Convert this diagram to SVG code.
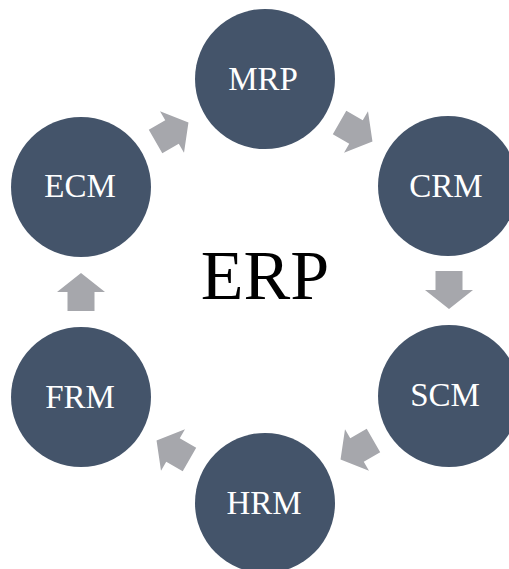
<svg xmlns="http://www.w3.org/2000/svg" width="509" height="569" viewBox="0 0 509 569">
<defs>
<style>
.node circle{fill:#44546A}
.node text{fill:#FFFFFF;font-family:"Liberation Serif","Times New Roman",serif;font-size:33px;text-anchor:middle}
.arrow{fill:#A6A7AC}
.title{fill:#000000;font-family:"Liberation Serif","Times New Roman",serif;font-size:70px;text-anchor:middle}
</style>
<path id="blk" d="M-19,-13.5 L0,-13.5 L0,-24 L19,0 L0,24 L0,13.5 L-19,13.5 Z"/>
</defs>
<rect width="509" height="569" fill="#FFFFFF"/>
<g id="connectors">
<use href="#blk" class="arrow" transform="translate(356,132) rotate(30)"/>
<use href="#blk" class="arrow" transform="translate(449,290) rotate(90)"/>
<use href="#blk" class="arrow" transform="translate(357,450) rotate(150)"/>
<use href="#blk" class="arrow" transform="translate(173,450) rotate(210)"/>
<use href="#blk" class="arrow" transform="translate(81,292) rotate(270)"/>
<use href="#blk" class="arrow" transform="translate(172,132) rotate(330)"/>
</g>
<g id="node-mrp" class="node"><circle cx="265" cy="79" r="70"/><text x="263" y="90">MRP</text></g>
<g id="node-crm" class="node"><circle cx="448" cy="186" r="70"/><text x="446" y="197">CRM</text></g>
<g id="node-scm" class="node"><circle cx="449" cy="396" r="71"/><text x="445" y="406">SCM</text></g>
<g id="node-hrm" class="node"><circle cx="265" cy="503" r="70"/><text x="264" y="514">HRM</text></g>
<g id="node-frm" class="node"><circle cx="81" cy="397" r="70"/><text x="80" y="408">FRM</text></g>
<g id="node-ecm" class="node"><circle cx="81" cy="187" r="70"/><text x="80" y="197">ECM</text></g>
<g id="center"><text class="title" x="265" y="299">ERP</text></g>
</svg>
